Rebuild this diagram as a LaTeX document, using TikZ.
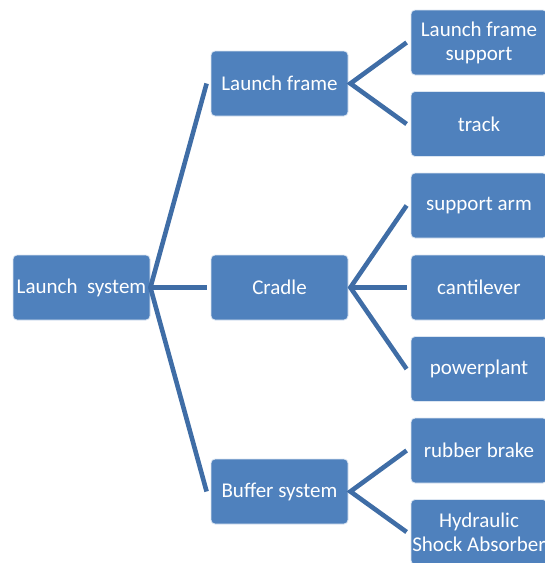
\documentclass[tikz,border=0pt]{standalone}
\usepackage{fontspec}
\setmainfont{Carlito}
\usetikzlibrary{calc}
\definecolor{boxblue}{HTML}{4F81BD}
\definecolor{lineblue}{HTML}{3F6DA6}
\begin{document}
\begin{tikzpicture}[x=1pt,y=-1pt,
  box/.style={draw=white!80!boxblue, line width=0.8pt, fill=boxblue, rounded corners=4pt,
    minimum width=137pt, minimum height=65pt, inner sep=0pt, text=white,
    font=\fontsize{21}{24}\selectfont, align=center},
  leaf/.style={box, minimum width=136pt},
  link/.style={draw=lineblue, line width=4.6pt, line join=miter}]
\useasboundingbox (0,0) rectangle (545,563);
\clip (0,0) rectangle (545,563);
\node[box] (sys) at (81.5,287.5) {Launch\ \ system};
\node[box] (frame) at (279.5,83.5) {Launch frame};
\node[box] (cradle) at (279.5,287.5) {Cradle};
\node[box] (buffer) at (279.5,491.5) {Buffer system};
\node[leaf] (lfs) at (479,42.5) {Launch frame\\support};
\node[leaf] (track) at (479,124) {track};
\node[leaf] (arm) at (479,205.5) {support arm};
\node[leaf] (cant) at (479,287.5) {cantilever};
\node[leaf] (power) at (479,369) {powerplant};
\node[leaf] (rubber) at (479,450.5) {rubber brake};
\node[leaf] (hyd) at (479,532) {Hydraulic\\Shock Absorber};
% top level
\coordinate (v0) at ($(sys.east)+(0,0)$);
\draw[link] ($(frame.west)+(-4,0)$) -- (v0) -- ($(buffer.west)+(-4,0)$);
\draw[link] (v0) -- ($(cradle.west)+(-4,0)$);
% launch frame
\coordinate (v1) at ($(frame.east)+(2,0)$);
\draw[link] ($(lfs.west)+(-4,0)$) -- (v1) -- ($(track.west)+(-4,0)$);
% cradle
\coordinate (v2) at ($(cradle.east)+(2,0)$);
\draw[link] ($(arm.west)+(-4,0)$) -- (v2) -- ($(power.west)+(-4,0)$);
\draw[link] (v2) -- ($(cant.west)+(-4,0)$);
% buffer
\coordinate (v3) at ($(buffer.east)+(2,0)$);
\draw[link] ($(rubber.west)+(-4,0)$) -- (v3) -- ($(hyd.west)+(-4,0)$);
\end{tikzpicture}
\end{document}
